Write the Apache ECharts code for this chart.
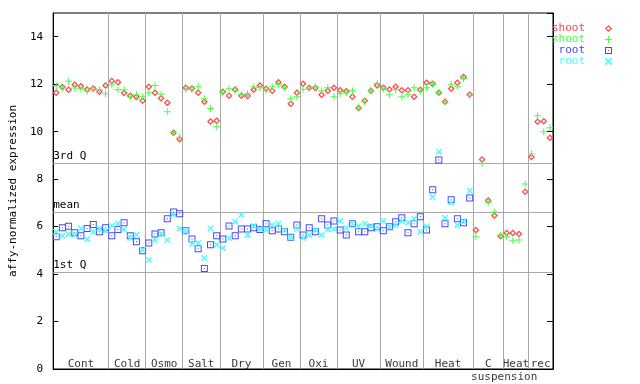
<!DOCTYPE html>
<html><head><meta charset="utf-8">
<script src="https://cdn.jsdelivr.net/npm/echarts@6/dist/echarts.min.js"></script>
<style>html,body{margin:0;padding:0;background:#fff}#c{width:640px;height:384px}</style>
</head><body><div id="c"></div>
<script>
const groupNames = ['Cont','Cold','Osmo','Salt','Dry','Gen','Oxi','UV','Wound','Heat','C','Heat','rec'];
const groupSizes = [9,6,6,6,7,6,6,7,7,8,5,4,4];
const subLabel = 'suspension';
const refValues = [8.69, 6.62, 4.09];
const refNames = ['3rd Q','mean','1st Q'];
const yTicks = {min:0, max:15, interval:2};

const shootRed = [11.64,11.88,11.77,11.98,11.91,11.78,11.82,11.68,11.94,
 12.13,12.08,11.63,11.51,11.46,11.30,
 11.89,11.64,11.41,11.22,9.95,9.68,
 11.85,11.82,11.64,11.26,10.43,10.46,
 11.68,11.51,11.78,11.51,11.50,11.77,11.95,
 11.81,11.72,12.08,11.89,11.18,11.64,
 12.02,11.85,11.84,11.56,11.72,11.85,
 11.74,11.70,11.47,11.00,11.30,11.72,11.94,
 11.85,11.78,11.89,11.74,11.74,11.47,11.77,
 12.06,12.02,11.64,11.26,11.81,12.06,12.30,11.57,
 5.86,8.83,7.10,6.47,5.59,
 5.73,5.73,5.69,7.47,
 8.93,10.42,10.44,9.74];
const shootGreen = [11.95,11.85,12.12,11.84,11.81,11.70,11.79,11.77,11.60,
 11.98,11.77,11.77,11.46,11.56,11.47,
 11.64,11.94,11.58,10.84,9.97,9.77,
 11.79,11.79,11.89,11.39,10.98,10.21,
 11.64,11.81,11.72,11.56,11.60,11.89,11.85,
 11.77,11.89,11.98,11.85,11.39,11.47,
 11.79,11.85,11.89,11.72,11.85,11.47,
 11.60,11.64,11.72,11.03,11.26,11.72,12.03,
 11.81,11.56,11.77,11.47,11.56,11.85,11.72,
 11.85,11.99,11.64,11.26,12.00,11.89,12.24,11.53,
 5.57,8.67,7.00,6.61,5.64,
 5.57,5.40,5.44,7.80,
 9.07,10.67,10.00,10.16];
const rootBlue = [5.57,5.95,6.02,5.74,5.61,5.92,6.09,5.78,5.95,
 5.61,5.88,6.16,5.61,5.36,4.98,
 5.31,5.69,5.74,6.33,6.62,6.54,
 5.83,5.48,5.07,4.23,5.23,5.61,
 5.48,6.03,5.61,5.90,5.90,5.95,5.88,
 6.12,5.82,5.90,5.78,5.55,6.07,
 5.65,5.95,5.78,6.33,6.07,6.24,
 5.86,5.65,6.12,5.78,5.78,5.95,5.99,
 5.82,5.99,6.20,6.37,5.74,6.12,6.41,
 5.86,7.55,8.81,6.12,7.13,6.33,6.16,7.21];
const rootCyan = [5.78,5.61,5.69,5.65,5.92,5.47,5.78,5.92,5.83,
 6.04,6.13,5.88,5.52,5.66,5.02,
 4.60,5.44,5.69,5.44,6.51,5.92,
 5.80,5.27,5.31,4.68,5.92,5.23,
 5.10,5.52,6.20,6.50,5.65,6.03,5.90,
 5.86,6.07,6.12,5.86,5.55,5.90,
 5.52,5.65,5.86,5.65,5.90,5.90,
 6.24,5.95,6.12,6.03,6.12,6.03,5.90,
 6.24,5.99,6.07,6.24,6.16,6.33,5.78,
 6.02,7.25,9.15,6.37,7.00,6.07,6.24,7.51];

const seriesNames = ['shoot','shoot','root','root'];
const seriesColors = ['#ff4848','#48ff48','#4848ff','#48ffff'];

const FONT = 'DejaVu Sans Mono';
const nTotal = groupSizes.reduce((a,b)=>a+b,0);
const bounds = []; const centers = [];
let acc = 0;
groupSizes.forEach((s,i)=>{ centers.push(acc + s/2); acc += s; if (i < groupSizes.length-1) bounds.push(acc); });

const symbols = [
 'path://M4,0L8,4L4,8L0,4ZM4,2L2,4L4,6L6,4Z',
 'path://M3,0H4V3H7V4H4V7H3V4H0V3H3Z',
 'path://M0,0H7V7H0ZM1,1V6H6V1ZM3,3H4V4H3Z',
 'path://M0,0L1,0L3,2L5,0L6,0L6,1L4,3L6,5L6,6L5,6L3,4L1,6L0,6L0,5L2,3L0,1Z'
];
const sizes = [7,7,7,6];
const allData = [shootRed, shootGreen, rootBlue, rootCyan];
const ids = ['s1','s2','r1','r2'];

const series = allData.map((arr,k)=>({
  name: ids[k], type:'scatter', symbol: symbols[k], symbolSize: sizes[k],
  itemStyle:{color: seriesColors[k], borderWidth:0, opacity:1},
  data: arr.map((v,i)=>[i+0.5, v]), z: 5+k, silent:true
}));

const labelData = centers.map((c,i)=>({value:[c,0,groupNames[i]]}));
labelData.push({value:[centers[10],0,subLabel], label:{offset:[16,8]}});

series.unshift({
  name:'labels', type:'scatter', symbolSize:0, clip:false, silent:true, z:3,
  data: labelData,
  label:{show:true, position:'inside', offset:[0,-5], color:'#000', fontFamily:FONT, fontSize:11,
    formatter: p=>p.value[2]},
  markLine:{silent:true, symbol:'none', animation:false,
    lineStyle:{color:'#a8a8a8', width:1, type:'solid'},
    label:{show:false},
    data: bounds.map(b=>({xAxis:b})).concat(refValues.map((v,i)=>({yAxis:v,
      label:{show:true, position:'insideStartTop', formatter: refNames[i], color:'#000',
        fontFamily:FONT, fontSize:11, distance:[0,1], padding:0}})))
  }
});

const chart = echarts.init(document.getElementById('c'), null, {renderer:'canvas'});
chart.setOption({
  animation:false,
  backgroundColor:'#fff',
  grid:{left:44, top:13, width:509, height:356, show:true, borderColor:'#000', borderWidth:1, backgroundColor:'transparent'},
  xAxis:{type:'value', min:0, max:nTotal, axisLine:{show:true, lineStyle:{color:'#000'}}, axisTick:{show:false}, axisLabel:{show:false}, splitLine:{show:false}},
  yAxis:[
    {type:'value', min:yTicks.min, max:yTicks.max, interval:yTicks.interval,
     name:'affy-normalized expression', nameLocation:'middle', nameGap:28,
     nameTextStyle:{fontFamily:FONT, fontSize:11, color:'#000'},
     axisLine:{show:true, lineStyle:{color:'#000'}},
     axisTick:{show:true, inside:true, length:5, lineStyle:{color:'#000'}},
     axisLabel:{color:'#000', fontFamily:FONT, fontSize:11, margin:10, showMaxLabel:false},
     splitLine:{show:false}},
    {type:'value', position:'right', min:yTicks.min, max:yTicks.max, interval:yTicks.interval,
     axisLine:{show:true, lineStyle:{color:'#000'}},
     axisTick:{show:true, inside:true, length:6, lineStyle:{color:'#000'}},
     axisLabel:{show:false}, splitLine:{show:false}}
  ],
  legend:{orient:'vertical', right:23, top:18, align:'right', itemWidth:7, itemHeight:7, itemGap:0,
    textStyle:{fontFamily:FONT, fontSize:11, lineHeight:11, padding:[0,15,0,0]},
    formatter: n => seriesNames[ids.indexOf(n)],
    data: ids.map((id,k)=>({name:id, textStyle:{color:seriesColors[k]}}))},
  series: series
});
</script></body></html>
